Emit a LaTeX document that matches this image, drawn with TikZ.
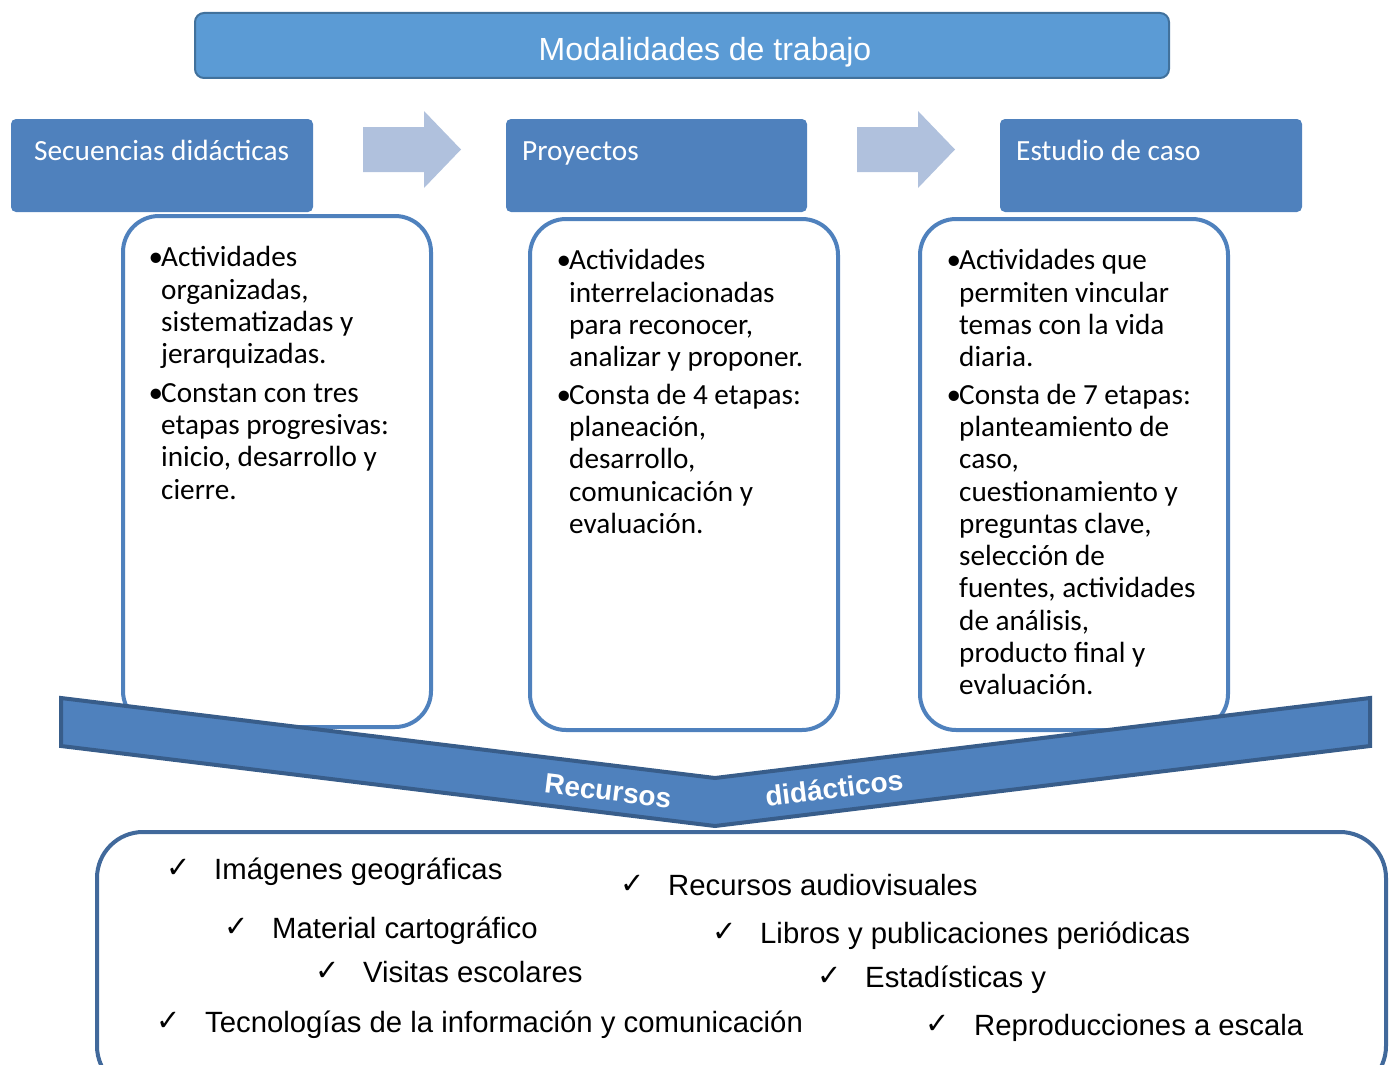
\documentclass[tikz,border=0pt]{standalone}
\usepackage{fontspec}
\setmainfont{Carlito}
\newfontfamily\arialf{Liberation Sans}
\newfontfamily\dejavu{DejaVu Sans}
\definecolor{titlefill}{HTML}{5B9BD5}
\definecolor{titleline}{HTML}{41719C}
\definecolor{hdrfill}{HTML}{4F81BD}
\definecolor{boxline}{HTML}{4F81BD}
\definecolor{arrowfill}{HTML}{B0C1DD}
\definecolor{bandline}{HTML}{385D8A}
\definecolor{botline}{HTML}{41699B}
\tikzset{
  titlebox/.style={draw=titleline, line width=2pt, fill=titlefill, rounded corners=9pt},
  hdrbox/.style={fill=hdrfill, rounded corners=5pt},
  hdrtext/.style={text=white, font=\fontsize{29.3}{32}\selectfont, inner sep=0pt, anchor=base west},
  contentbox/.style={draw=boxline, line width=4pt, fill=white, rounded corners=36pt},
  bodytext/.style={font=\fontsize{29.2}{32.3}\selectfont, align=left, inner sep=0pt, anchor=north west},
  blockarrow/.style={fill=arrowfill},
  band/.style={fill=hdrfill, draw=bandline, line width=4pt, line join=miter},
  bandtext/.style={text=white, font=\arialf\bfseries\fontsize{28}{30}\selectfont, inner sep=0pt},
  botbox/.style={draw=botline, line width=4pt, fill=white, rounded corners=46pt},
  item/.style={font=\arialf\fontsize{29.3}{32}\selectfont, inner sep=0pt, anchor=base west},
  chk/.style={font=\dejavu\fontsize{29}{30}\selectfont, inner sep=0pt, anchor=base west},
}
\newcommand{\blt}{\llap{•\kern-2pt}}
\begin{document}
\begin{tikzpicture}[x=1pt,y=-1pt]
\useasboundingbox (0,0) rectangle (1395,1065);
% title
\draw[titlebox] (195,13) rectangle (1169,78);
\node[text=white, font=\arialf\fontsize{32}{34}\selectfont, inner sep=0pt, anchor=base] (title) at (705,60) {Modalidades de trabajo};
% header boxes
\path[hdrbox] (11,119) rectangle (313,212);
\path[hdrbox] (506,119) rectangle (807,212);
\path[hdrbox] (1000,119) rectangle (1302,212);
\node[hdrtext] (h1) at (34,160) {Secuencias didácticas};
\node[hdrtext] (h2) at (522,160) {Proyectos};
\node[hdrtext] (h3) at (1016,160) {Estudio de caso};
% block arrows
\path[blockarrow] (363,127) -- (424,127) -- (424,111) -- (461,149.5) -- (424,188) -- (424,172) -- (363,172) -- cycle;
\path[blockarrow] (857,127) -- (918,127) -- (918,111) -- (955,149.5) -- (918,188) -- (918,172) -- (857,172) -- cycle;
% content boxes
\draw[contentbox] (123,216) rectangle (431,727);
\draw[contentbox] (530,219) rectangle (838,730);
\draw[contentbox] (920,219) rectangle (1228,730);
\node[bodytext] (b1) at (161,246.5) {\blt Actividades\\organizadas,\\sistematizadas y\\jerarquizadas.\\[6pt]\blt Constan con tres\\etapas progresivas:\\inicio, desarrollo y\\cierre.};
\node[bodytext] (b2) at (569,249.5) {\blt Actividades\\interrelacionadas\\para reconocer,\\analizar y proponer.\\[5pt]\blt Consta de 4 etapas:\\planeación,\\desarrollo,\\comunicación y\\evaluación.};
\node[bodytext] (b3) at (959,249.5) {\blt Actividades que\\permiten vincular\\temas con la vida\\diaria.\\[5pt]\blt Consta de 7 etapas:\\planteamiento de\\caso,\\cuestionamiento y\\preguntas clave,\\selección de\\fuentes, actividades\\de análisis,\\producto final y\\evaluación.};
% band
\draw[band] (61,698) -- (715,778) -- (1370,698) -- (1370,746) -- (715,826) -- (61,746) -- cycle;
\node[bandtext, rotate=-7] (r1) at (608,791) {Recursos};
\node[bandtext, rotate=7] (r2) at (834,788) {didácticos};
% bottom box
\draw[botbox] (97,832) rectangle (1386,1092);
\node[chk] (c1) at (166,877) {✓};
\node[item] (i1) at (214,879) {Imágenes geográficas};
\node[chk] (c2) at (620,893) {✓};
\node[item] (i2) at (668,895) {Recursos audiovisuales};
\node[chk] (c3) at (224,936) {✓};
\node[item] (i3) at (272,938) {Material cartográfico};
\node[chk] (c4) at (712,941) {✓};
\node[item] (i4) at (760,943) {Libros y publicaciones periódicas};
\node[chk] (c5) at (315,980) {✓};
\node[item] (i5) at (363,982) {Visitas escolares};
\node[chk] (c6) at (817,985) {✓};
\node[item] (i6) at (865,987) {Estadísticas y};
\node[chk] (c7) at (156,1030) {✓};
\node[item] (i7) at (205,1032) {Tecnologías de la información y comunicación};
\node[chk] (c8) at (925,1033) {✓};
\node[item] (i8) at (974,1035) {Reproducciones a escala};
\end{tikzpicture}
\end{document}
